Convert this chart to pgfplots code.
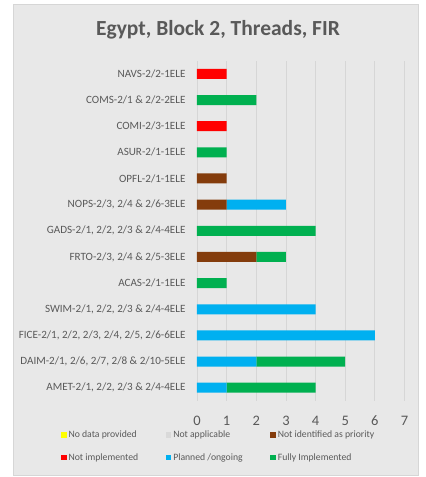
\documentclass[border=0pt]{standalone}
\usepackage{fontspec}
\setmainfont{Carlito}
\usepackage{pgfplots}
\pgfplotsset{compat=1.18}

\definecolor{bggray}{RGB}{232,232,232}
\definecolor{edgegray}{RGB}{214,214,214}
\definecolor{gridgray}{RGB}{214,214,214}
\definecolor{txtgray}{RGB}{89,89,89}
\definecolor{cbrown}{RGB}{132,60,12}
\definecolor{cred}{RGB}{255,0,0}
\definecolor{cblue}{RGB}{0,176,240}
\definecolor{cgreen}{RGB}{0,176,80}
\definecolor{cyellow}{RGB}{255,255,0}
\definecolor{cna}{RGB}{217,217,217}

\pgfplotsset{sq/.style={legend image code/.code={\fill[##1] (0pt,-2.8pt) rectangle (5.6pt,2.8pt);}}}

\begin{document}
\begin{tikzpicture}
\path[use as bounding box] (0pt,0pt) rectangle (426pt,477pt);
\fill[bggray, draw=edgegray] (13pt,2pt) rectangle (418pt,473pt);
\node[font=\bfseries\fontsize{21.5}{26}\selectfont, text=txtgray] at (218pt,447pt) {Egypt, Block 2, Threads, FIR};
\begin{axis}[
    at={(197pt,76.2pt)}, anchor=south west,
    scale only axis,
    width=207.5pt, height=340pt,
    xbar stacked,
    bar width=10pt,
    xmin=0, xmax=7,
    ymin=-0.5, ymax=12.5,
    xtick={0,1,...,7},
    ytick={0,1,...,12},
    yticklabels={
        AMET-2/1{,} 2/2{,} 2/3 \& 2/4-4ELE,
        DAIM-2/1{,} 2/6{,} 2/7{,} 2/8 \& 2/10-5ELE,
        FICE-2/1{,} 2/2{,} 2/3{,} 2/4{,} 2/5{,} 2/6-6ELE,
        SWIM-2/1{,} 2/2{,} 2/3 \& 2/4-4ELE,
        ACAS-2/1-1ELE,
        FRTO-2/3{,} 2/4 \& 2/5-3ELE,
        GADS-2/1{,} 2/2{,} 2/3 \& 2/4-4ELE,
        NOPS-2/3{,} 2/4 \& 2/6-3ELE,
        OPFL-2/1-1ELE,
        ASUR-2/1-1ELE,
        COMI-2/3-1ELE,
        COMS-2/1 \& 2/2-2ELE,
        NAVS-2/2-1ELE},
    xmajorgrids,
    grid style={gridgray, line width=0.8pt},
    axis line style={draw=none},
    major tick length=0pt,
    /pgf/number format/assume math mode=true,
    xticklabel style={font=\fontsize{14.5}{16}\selectfont, text=txtgray, yshift=-11.5pt},
    yticklabel style={font=\fontsize{11.1}{13}\selectfont, text=txtgray, xshift=-8pt},
    legend columns=3,
    legend cell align=left,
    legend style={at={(0.104,-0.134)}, anchor=center, draw=none, fill=none,
        font=\fontsize{9.7}{11}\selectfont, text=txtgray,
        /tikz/every even column/.append style={column sep=25.5pt},
        row sep=10pt},
]
\addlegendimage{sq, fill=cyellow, draw=none}
\addlegendentry{No data provided}
\addlegendimage{sq, fill=cna, draw=none}
\addlegendentry{Not applicable}

% Not identified as priority
\addplot[sq, fill=cbrown, draw=none] coordinates {
    (0,0) (0,1) (0,2) (0,3) (0,4) (2,5) (0,6) (1,7) (1,8) (0,9) (0,10) (0,11) (0,12)};
\addlegendentry{Not identified as priority}
% Not implemented
\addplot[sq, fill=cred, draw=none] coordinates {
    (0,0) (0,1) (0,2) (0,3) (0,4) (0,5) (0,6) (0,7) (0,8) (0,9) (1,10) (0,11) (1,12)};
\addlegendentry{Not implemented}
% Planned /ongoing
\addplot[sq, fill=cblue, draw=none] coordinates {
    (1,0) (2,1) (6,2) (4,3) (0,4) (0,5) (0,6) (2,7) (0,8) (0,9) (0,10) (0,11) (0,12)};
\addlegendentry{Planned /ongoing}
% Fully Implemented
\addplot[sq, fill=cgreen, draw=none] coordinates {
    (3,0) (3,1) (0,2) (0,3) (1,4) (1,5) (4,6) (0,7) (0,8) (1,9) (0,10) (2,11) (0,12)};
\addlegendentry{Fully Implemented}
\end{axis}
\end{tikzpicture}
\end{document}
